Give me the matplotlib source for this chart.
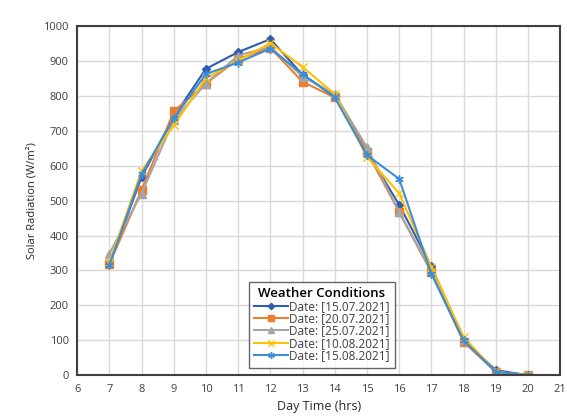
import matplotlib.pyplot as plt

plt.rcParams['font.family'] = ['Open Sans', 'DejaVu Sans']

hours = [7, 8, 9, 10, 11, 12, 13, 14, 15, 16, 17, 18, 19, 20]

rad_1507 = [318, 567, 740, 877, 925, 962, 860, 800, 640, 488, 312, 100, 15, 0]
rad_2007 = [318, 530, 755, 835, 905, 937, 840, 795, 640, 467, 295, 95, 10, 0]
rad_2507 = [348, 520, 730, 835, 915, 940, 855, 805, 652, 467, 300, 100, 10, 0]
rad_1008 = [322, 585, 715, 850, 900, 951, 882, 805, 625, 521, 310, 110, 10, 0]
rad_1508 = [315, 575, 735, 862, 895, 935, 862, 795, 630, 562, 290, 100, 10, 0]

labels = ["Date: [15.07.2021]", "Date: [20.07.2021]", "Date: [25.07.2021]",
          "Date: [10.08.2021]", "Date: [15.08.2021]"]

fig = plt.figure(figsize=(5.67, 4.17), dpi=100)
ax = fig.add_axes([0.136, 0.1, 0.852, 0.838])

ax.plot(hours, rad_1507, marker='D', markersize=4, linewidth=1.5, color='#2F5DB0', label=labels[0])
ax.plot(hours, rad_2007, marker='s', markersize=6, linewidth=1.5, color='#ED7D31', label=labels[1])
ax.plot(hours, rad_2507, marker='^', markersize=6, linewidth=1.5, color='#A5A5A5', label=labels[2])
ax.plot(hours, rad_1008, marker='x', markersize=6, linewidth=1.5, color='#FFC000', label=labels[3])
ax.plot(hours, rad_1508, marker=(6, 2, 0), markersize=6, linewidth=1.5, color='#3C8DD8', label=labels[4])

ax.set_xlim(6, 21)
ax.set_ylim(0, 1000)
ax.set_xticks(range(6, 22))
ax.set_yticks(range(0, 1001, 100))
ax.grid(True, color='#d9d9d9', linewidth=1)
ax.set_axisbelow(True)
ax.tick_params(length=0, labelsize=8, colors='#404040', pad=6)

for s in ax.spines.values():
    s.set_color('#404040')
    s.set_linewidth(1.5)

ax.set_xlabel("Day Time (hrs)", fontsize=9, color='#262626')
ax.set_ylabel("Solar Radiation (W/m²)", fontsize=8, color='#262626')

leg = ax.legend(title="Weather Conditions", loc='lower left', bbox_to_anchor=(0.343, 0.005),
                fontsize=8.5, title_fontsize=9.5, frameon=True, fancybox=False,
                edgecolor='#404040', handlelength=2.9, labelspacing=-0.05,
                borderpad=0.45, handletextpad=0.1, markerscale=0.8)
leg.get_title().set_fontweight('semibold')
leg.get_frame().set_linewidth(1)
for t in leg.get_texts():
    t.set_color('#404040')

fig.savefig("out.png", dpi=100)
